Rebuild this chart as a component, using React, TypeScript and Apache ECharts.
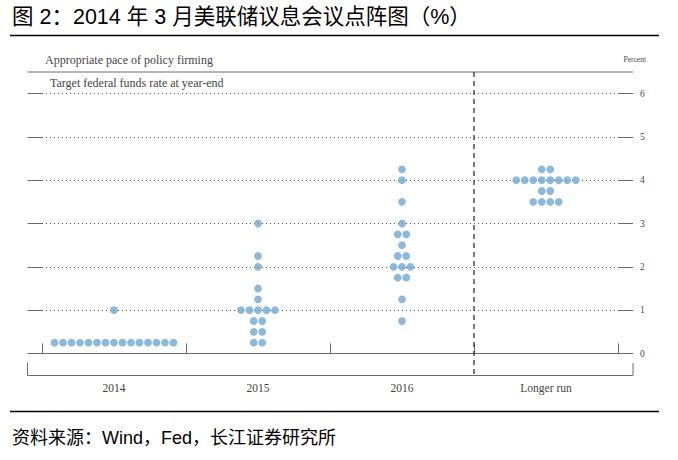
import React, { useEffect, useRef } from "react";
import * as echarts from "echarts";

const categories = ["2014", "2015", "2016", "Longer run"];
const proj2014 = [0.25, 0.25, 0.25, 0.25, 0.25, 0.25, 0.25, 0.25, 0.25, 0.25, 0.25, 0.25, 0.25, 0.25, 0.25, 1.0];
const proj2015 = [0.25, 0.25, 0.5, 0.5, 0.75, 0.75, 1, 1, 1, 1, 1, 1.25, 1.5, 2, 2.25, 3];
const proj2016 = [0.75, 1.25, 1.75, 1.75, 2, 2, 2, 2.25, 2.25, 2.5, 2.75, 2.75, 3, 3.5, 4, 4.25];
const projLonger = [3.5, 3.5, 3.5, 3.5, 3.75, 3.75, 4, 4, 4, 4, 4, 4, 4, 4, 4.25, 4.25];
const yMin = 0;
const yMax = 6;
const yStep = 1;

const titleText = "图 2：2014 年 3 月美联储议息会议点阵图（%）";
const topLabel = "Appropriate pace of policy firming";
const unitLabel = "Percent";
const subLabel = "Target federal funds rate at year-end";
const sourceText = "资料来源：Wind，Fed，长江证券研究所";

const DOT_GAP = 8.5;
const SERIF = "'Liberation Serif', 'DejaVu Serif', serif";
const SANS = "'Liberation Sans', 'Noto Sans CJK SC', sans-serif";

function buildPoints() {
  const all = [proj2014, proj2015, proj2016, projLonger];
  const pts: any[] = [];
  all.forEach((vals, ci) => {
    const counts = new Map<number, number>();
    vals.forEach((v) => counts.set(v, (counts.get(v) || 0) + 1));
    counts.forEach((n, v) => {
      for (let k = 0; k < n; k++) {
        pts.push({
          value: [categories[ci], v],
          symbolOffset: [(k - (n - 1) / 2) * DOT_GAP, 0],
        });
      }
    });
  });
  return pts;
}

export default function App() {
  const ref = useRef<HTMLDivElement>(null);
  useEffect(() => {
    if (!ref.current) return;
    const chart = echarts.init(ref.current, undefined, { renderer: "svg" });
    const frame = "#6b6b6b";
    chart.setOption({
      animation: false,
      backgroundColor: "#ffffff",
      title: [
        {
          text: titleText,
          left: 12,
          top: 6.5,
          padding: 0,
          textStyle: { fontSize: 21.5, fontWeight: "normal", color: "#000", fontFamily: SANS },
        },
        {
          text: topLabel,
          left: 45,
          top: 54,
          padding: 0,
          textStyle: { fontSize: 12, fontWeight: "normal", color: "#444", fontFamily: SERIF },
        },
        {
          text: unitLabel,
          right: 678 - 646,
          top: 55,
          padding: 0,
          textStyle: { fontSize: 7.5, fontWeight: "normal", color: "#444", fontFamily: SERIF },
        },
        {
          text: subLabel,
          left: 50,
          top: 77,
          padding: 0,
          textStyle: { fontSize: 12, fontWeight: "normal", color: "#444", fontFamily: SERIF },
        },
        {
          text: sourceText,
          left: 12,
          top: 429,
          padding: 0,
          textStyle: { fontSize: 18, fontWeight: "normal", color: "#000", fontFamily: SANS },
        },
      ],
      grid: { left: 42, right: 60, top: 93.5, bottom: 106.5, containLabel: false },
      xAxis: {
        type: "category",
        data: categories,
        boundaryGap: true,
        offset: 22,
        axisLine: { show: true, lineStyle: { color: frame, width: 1 } },
        axisTick: { show: true, inside: true, length: 10, lineStyle: { color: frame, width: 1 } },
        axisLabel: { margin: 6, fontSize: 11.5, color: "#444", fontFamily: SERIF },
        splitLine: { show: false },
      },
      yAxis: [
        {
          type: "value",
          position: "right",
          min: yMin,
          max: yMax,
          interval: yStep,
          axisLine: { show: false },
          axisTick: { show: true, inside: false, length: 15, lineStyle: { color: frame, width: 1 } },
          axisLabel: { margin: 22, fontSize: 9.5, color: "#444", fontFamily: SERIF, align: "left" },
          splitLine: { show: true, lineStyle: { color: "#555", width: 1, type: [1, 3] } },
        },
        {
          type: "value",
          position: "left",
          min: yMin,
          max: yMax,
          interval: yStep,
          axisLine: { show: false },
          axisTick: { show: true, inside: false, length: 14.5, lineStyle: { color: frame, width: 1 } },
          axisLabel: { show: false },
          splitLine: { show: false },
        },
      ],
      series: [
        {
          type: "scatter",
          yAxisIndex: 0,
          symbol: "circle",
          symbolSize: 7.8,
          itemStyle: { color: "#6fa6d3" },
          data: buildPoints(),
          z: 5,
        },
      ],
      graphic: [
        { type: "line", shape: { x1: 10, y1: 35.5, x2: 659, y2: 35.5 }, style: { stroke: "#000", lineWidth: 1.5 } },
        { type: "line", shape: { x1: 10, y1: 411.5, x2: 659, y2: 411.5 }, style: { stroke: "#000", lineWidth: 1.5 } },
        { type: "line", shape: { x1: 27.5, y1: 72, x2: 633, y2: 72 }, style: { stroke: frame, lineWidth: 1 } },
        { type: "line", shape: { x1: 27.5, y1: 375.5, x2: 633, y2: 375.5 }, style: { stroke: frame, lineWidth: 1 } },
        { type: "line", shape: { x1: 27.5, y1: 363, x2: 27.5, y2: 375.5 }, style: { stroke: frame, lineWidth: 1 } },
        { type: "line", shape: { x1: 633, y1: 363, x2: 633, y2: 375.5 }, style: { stroke: frame, lineWidth: 1 } },
        {
          type: "line",
          shape: { x1: 474, y1: 72, x2: 474, y2: 375.5 },
          style: { stroke: "#222", lineWidth: 1.2, lineDash: [5, 4] },
          z: 10,
        },
      ],
    });
    return () => chart.dispose();
  }, []);
  return (
    <div
      ref={ref}
      style={{ position: "fixed", left: 0, top: 0, width: 678, height: 460, background: "#fff" }}
    />
  );
}
